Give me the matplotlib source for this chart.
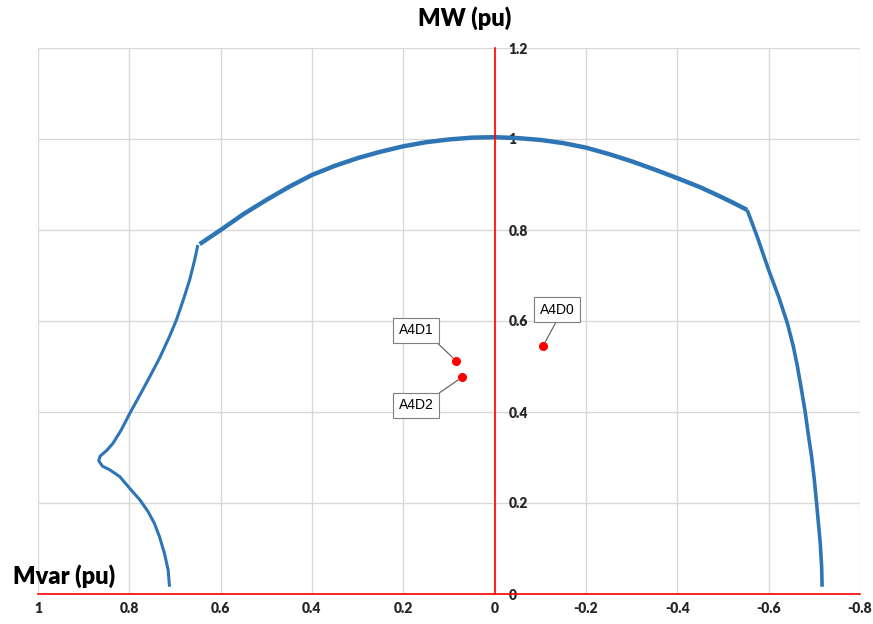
import matplotlib.pyplot as plt

# capability curve (Mvar, MW in pu)
LEFT_Q = [0.712, 0.715, 0.723, 0.734, 0.745, 0.759, 0.777, 0.799, 0.821, 0.843, 0.859, 0.867,
          0.864, 0.850, 0.836, 0.818, 0.799, 0.777, 0.755, 0.734, 0.712, 0.697, 0.682, 0.668,
          0.657, 0.650]
LEFT_P = [0.016, 0.053, 0.089, 0.126, 0.155, 0.181, 0.207, 0.232, 0.258, 0.273, 0.281, 0.293,
          0.303, 0.315, 0.331, 0.360, 0.397, 0.437, 0.478, 0.518, 0.566, 0.602, 0.646, 0.690,
          0.734, 0.767]

ARC_Q = [0.646, 0.6, 0.55, 0.5, 0.45, 0.4, 0.35, 0.3, 0.25, 0.2, 0.15, 0.1, 0.05, 0.0,
         -0.05, -0.1, -0.15, -0.2, -0.25, -0.3, -0.35, -0.4, -0.45, -0.487, -0.52, -0.553]
ARC_P = [0.769, 0.800, 0.835, 0.866, 0.895, 0.921, 0.941, 0.958, 0.972, 0.984, 0.993, 0.999,
         1.003, 1.004, 1.002, 0.998, 0.991, 0.981, 0.967, 0.951, 0.933, 0.914, 0.894, 0.877,
         0.861, 0.844]

RIGHT_Q = [-0.553, -0.575, -0.600, -0.622, -0.641, -0.654, -0.663, -0.672, -0.680, -0.687,
           -0.694, -0.700, -0.705, -0.709, -0.713, -0.716, -0.717]
RIGHT_P = [0.844, 0.785, 0.712, 0.653, 0.595, 0.544, 0.500, 0.448, 0.400, 0.349,
           0.302, 0.251, 0.199, 0.155, 0.111, 0.060, 0.016]

# operating points
NAMES = ["A4D0", "A4D1", "A4D2"]
POINT_Q = [-0.106, 0.084, 0.072]
POINT_P = [0.545, 0.512, 0.476]

X_TICKS = [1, 0.8, 0.6, 0.4, 0.2, 0, -0.2, -0.4, -0.6, -0.8]
Y_TICKS = [0, 0.2, 0.4, 0.6, 0.8, 1, 1.2]

BLUE = "#2E75B6"
RED = "#FF0000"


def fmt(v):
    return "0" if v == 0 else f"{v:g}"


def plot():
    plt.rcParams["font.family"] = ["Lato", "DejaVu Sans"]
    fig = plt.figure(figsize=(8.73, 6.24), dpi=100)
    ax = fig.add_axes([38 / 873, 30 / 624, 822 / 873, 546 / 624])

    ax.plot(LEFT_Q, LEFT_P, color=BLUE, lw=2.2, solid_capstyle="butt", solid_joinstyle="round")
    ax.plot(ARC_Q, ARC_P, color=BLUE, lw=3.2, solid_capstyle="butt", solid_joinstyle="round")
    ax.plot(RIGHT_Q, RIGHT_P, color=BLUE, lw=2.6, solid_capstyle="butt", solid_joinstyle="round")

    ax.plot(POINT_Q, POINT_P, "o", color=RED, ms=5.5, zorder=5)

    # callout labels
    offsets = [(10, 26), (-29, 22), (-33, -20)]
    relpos = [(0.55, 0), (0.95, 0), (0.95, 1)]
    for name, q, p, off, rp in zip(NAMES, POINT_Q, POINT_P, offsets, relpos):
        ax.annotate(
            name, (q, p), xytext=off, textcoords="offset points",
            ha="center", va="center", fontsize=10, family=["Liberation Sans"],
            bbox=dict(boxstyle="square,pad=0.4", fc="white", ec="#7f7f7f", lw=0.8),
            arrowprops=dict(arrowstyle="-", color="#595959", lw=0.8,
                            shrinkA=0, shrinkB=3, relpos=rp),
        )

    ax.set_xlim(1, -0.8)
    ax.set_ylim(0, 1.2)
    ax.set_xticks(X_TICKS)
    ax.set_xticklabels([fmt(v) for v in X_TICKS])
    ax.set_yticks(Y_TICKS)
    ax.set_yticklabels([fmt(v) for v in Y_TICKS])

    ax.grid(True, color="#d9d9d9", lw=1)
    ax.set_axisbelow(True)

    # axes cross at the origin, y labels on the right of the MW axis
    ax.yaxis.tick_right()
    ax.spines["right"].set_position(("data", 0))
    ax.spines["right"].set_color(RED)
    ax.spines["right"].set_linewidth(1.2)
    ax.spines["bottom"].set_color(RED)
    ax.spines["bottom"].set_linewidth(1.2)
    ax.spines["top"].set_visible(False)
    ax.spines["left"].set_visible(False)
    ax.tick_params(length=0, labelsize=10, labelcolor="#262626")
    ax.tick_params(axis="x", pad=6)
    ax.tick_params(axis="y", pad=10)
    for lbl in ax.get_xticklabels() + ax.get_yticklabels():
        lbl.set_fontweight("heavy")

    fig.text(465 / 873, 1 - 18 / 624, "MW (pu)", ha="center", va="center",
             fontsize=17, fontweight="heavy")
    fig.text(13 / 873, 1 - 576 / 624, "Mvar (pu)", ha="left", va="center",
             fontsize=17, fontweight="heavy")

    fig.savefig("out.png", dpi=100)


if __name__ == "__main__":
    plot()
